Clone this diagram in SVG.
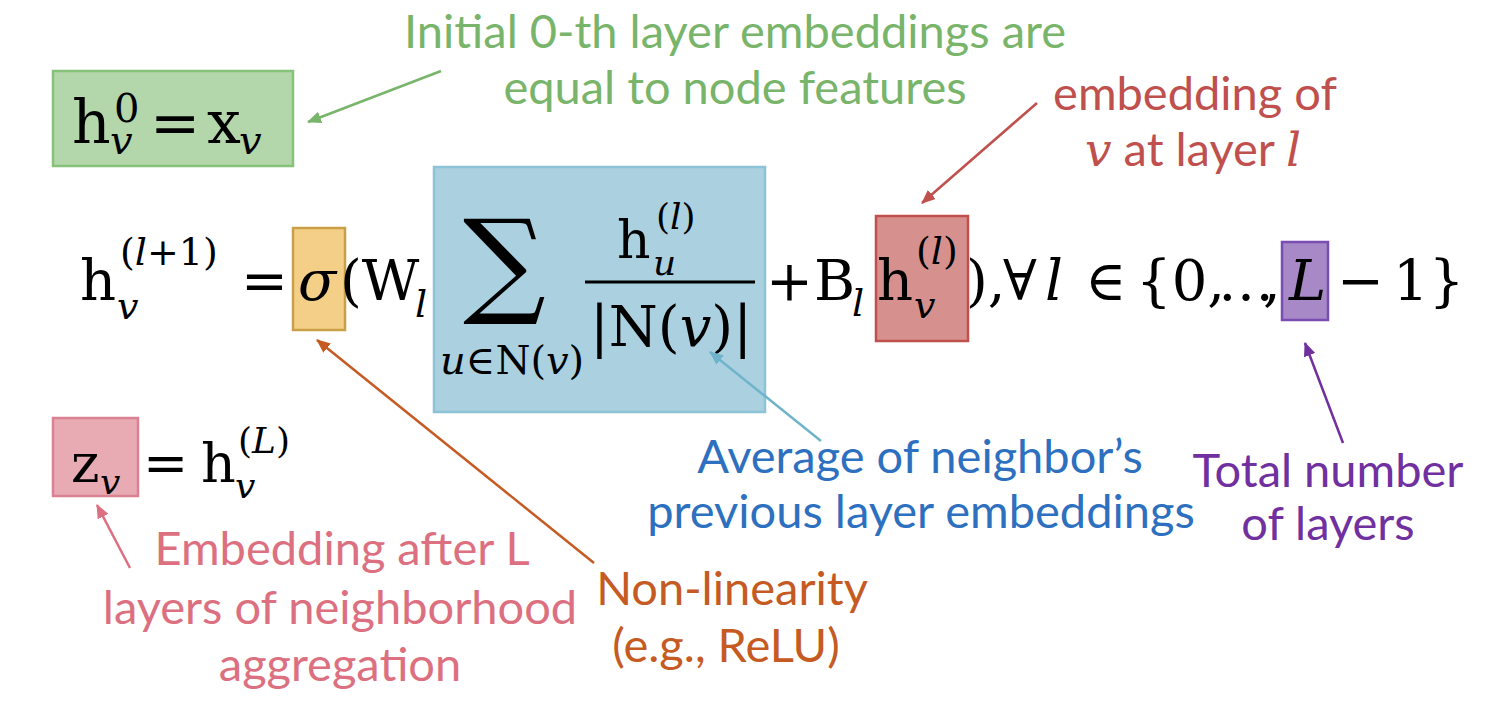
<svg xmlns="http://www.w3.org/2000/svg" width="1492" height="716" viewBox="0 0 1492 716">
<style>
.m{font-family:"DejaVu Serif","Liberation Serif",serif;fill:#000}
.i{font-style:italic}
.lbl{font-family:Lato,"Open Sans","Liberation Sans",sans-serif;font-size:47px;text-anchor:middle}
.con{stroke-width:2.5;fill:none}
</style>
<defs>
<marker id="aG" viewBox="0 0 14 12" refX="13" refY="6" markerWidth="14" markerHeight="12" markerUnits="userSpaceOnUse" orient="auto"><path d="M0,0L14,6L0,12z" fill="#78b46a"/></marker>
<marker id="aR" viewBox="0 0 14 12" refX="13" refY="6" markerWidth="14" markerHeight="12" markerUnits="userSpaceOnUse" orient="auto"><path d="M0,0L14,6L0,12z" fill="#c0504d"/></marker>
<marker id="aO" viewBox="0 0 14 12" refX="13" refY="6" markerWidth="14" markerHeight="12" markerUnits="userSpaceOnUse" orient="auto"><path d="M0,0L14,6L0,12z" fill="#c55a22"/></marker>
<marker id="aB" viewBox="0 0 14 12" refX="13" refY="6" markerWidth="14" markerHeight="12" markerUnits="userSpaceOnUse" orient="auto"><path d="M0,0L14,6L0,12z" fill="#6fb4cb"/></marker>
<marker id="aP" viewBox="0 0 14 12" refX="13" refY="6" markerWidth="14" markerHeight="12" markerUnits="userSpaceOnUse" orient="auto"><path d="M0,0L14,6L0,12z" fill="#7030a0"/></marker>
<marker id="aK" viewBox="0 0 14 12" refX="13" refY="6" markerWidth="14" markerHeight="12" markerUnits="userSpaceOnUse" orient="auto"><path d="M0,0L14,6L0,12z" fill="#dc7080"/></marker>
</defs>
<rect width="1492" height="716" fill="#fff"/>

<!-- highlight boxes -->
<g id="box-init">
<rect x="53" y="71" width="240" height="95" fill="#b3d6ab" stroke="#86c27a" stroke-width="2.5"/>
<text class="m" x="72" y="143" font-size="60">h</text>
<text class="m" x="114" y="122" font-size="40">0</text>
<text class="m i" x="110" y="154" font-size="40">v</text>
<text class="m" x="150" y="143" font-size="60">=</text>
<text class="m" x="207" y="143" font-size="60">x</text>
<text class="m i" x="239" y="154" font-size="40">v</text>
</g>

<g id="box-sigma"><rect x="293" y="228" width="52" height="102" fill="#f3cf88" stroke="#c9a045" stroke-width="2.5"/></g>
<g id="box-avg"><rect x="434" y="167" width="331" height="245" fill="#abd1e0" stroke="#8cc3d6" stroke-width="2.5"/></g>
<g id="box-self"><rect x="876" y="216" width="92" height="125" fill="#d6918e" stroke="#c0504d" stroke-width="2.5"/></g>
<g id="box-L"><rect x="1282" y="242" width="46" height="78" fill="#a689c6" stroke="#7a4cb4" stroke-width="2.5"/></g>
<g id="box-z"><rect x="53" y="418" width="85" height="78" fill="#e8abb3" stroke="#db8292" stroke-width="2.5"/></g>

<!-- main equation -->
<g id="equation">
<text class="m" x="80" y="300" font-size="56">h</text>
<text class="m" x="120" y="265" font-size="38">(<tspan class="i">l</tspan>+1)</text>
<text class="m i" x="117" y="319" font-size="38">v</text>
<text class="m" x="241" y="300" font-size="56">=</text>
<text class="m i" x="298" y="300" font-size="56">σ</text>
<text class="m" x="340" y="300" font-size="56">(W</text>
<text class="m i" x="415" y="317" font-size="38">l</text>
<text class="m" x="463" y="302" font-size="116">∑</text>
<text class="m" x="440" y="374" font-size="40"><tspan class="i">u</tspan>∈N(<tspan class="i">v</tspan>)</text>
<text class="m" x="617" y="258" font-size="52">h</text>
<text class="m" x="656" y="229" font-size="36">(<tspan class="i">l</tspan>)</text>
<text class="m i" x="653" y="275" font-size="36">u</text>
<line x1="585" y1="282" x2="755" y2="282" stroke="#000" stroke-width="3"/>
<text class="m" x="671" y="346" font-size="56" text-anchor="middle">|N(<tspan class="i">v</tspan>)|</text>
<text class="m" x="766" y="300" font-size="56">+</text>
<text class="m" x="814" y="300" font-size="56">B</text>
<text class="m i" x="852" y="316" font-size="38">l</text>
<text class="m" x="877" y="300" font-size="56">h</text>
<text class="m" x="916" y="264" font-size="38">(<tspan class="i">l</tspan>)</text>
<text class="m i" x="914" y="318" font-size="38">v</text>
<text class="m" x="966" y="300" font-size="56">),</text>
<text class="m" x="1003" y="300" font-size="56">∀</text>
<text class="m i" x="1045" y="300" font-size="56">l</text>
<text class="m" x="1085" y="300" font-size="56">∈</text>
<text class="m" x="1136" y="300" font-size="56">{0,</text>
<text class="m" x="1218" y="300" font-size="56">…</text>
<text class="m" x="1263" y="300" font-size="56">,</text>
<text class="m i" x="1289" y="300" font-size="56" fill="#3a1d5c">L</text>
<text class="m" x="1337" y="300" font-size="56">−</text>
<text class="m" x="1393" y="300" font-size="56">1}</text>
</g>

<g id="z-eq">
<text class="m" x="71" y="482" font-size="54">z</text>
<text class="m i" x="100" y="494" font-size="36">v</text>
<text class="m" x="143" y="482" font-size="54">=</text>
<text class="m" x="201" y="482" font-size="54">h</text>
<text class="m" x="238" y="453" font-size="36">(<tspan class="i">L</tspan>)</text>
<text class="m i" x="235" y="498" font-size="36">v</text>
</g>

<!-- labels -->
<g id="label-init" class="lbl" fill="#78b46a">
<text x="735" y="48">Initial 0-th layer embeddings are</text>
<text x="735" y="104">equal to node features</text>
</g>
<g id="label-self" class="lbl" fill="#c0504d">
<text x="1195" y="110">embedding of</text>
<text x="1193" y="166"><tspan font-family="DejaVu Serif, serif" font-style="italic" fill="#c0504d">v</tspan> at layer <tspan font-family="DejaVu Serif, serif" font-style="italic" fill="#c0504d">l</tspan></text>
</g>
<g id="label-avg" class="lbl" fill="#2e70c0">
<text x="920" y="473">Average of neighbor’s</text>
<text x="921" y="528">previous layer embeddings</text>
</g>
<g id="label-L" class="lbl" fill="#7030a0">
<text x="1328" y="487">Total number</text>
<text x="1328" y="540">of layers</text>
</g>
<g id="label-z" class="lbl" fill="#dc7080">
<text x="342" y="565">Embedding after L</text>
<text x="340" y="624">layers of neighborhood</text>
<text x="340" y="681">aggregation</text>
</g>
<g id="label-sigma" class="lbl" fill="#c55a22">
<text x="732" y="605">Non-linearity</text>
<text x="726" y="662">(e.g., ReLU)</text>
</g>

<g id="connectors" class="con">
<line x1="441" y1="71" x2="308" y2="122" stroke="#78b46a" marker-end="url(#aG)"/>
<line x1="1037" y1="103" x2="922" y2="203" stroke="#c0504d" marker-end="url(#aR)"/>
<line x1="594" y1="563" x2="317" y2="340" stroke="#c55a22" marker-end="url(#aO)"/>
<line x1="821" y1="441" x2="710" y2="352" stroke="#6fb4cb" marker-end="url(#aB)"/>
<line x1="1343" y1="443" x2="1305" y2="343" stroke="#7030a0" marker-end="url(#aP)"/>
<line x1="130" y1="568" x2="97" y2="505" stroke="#dc7080" marker-end="url(#aK)"/>
</g>
</svg>
